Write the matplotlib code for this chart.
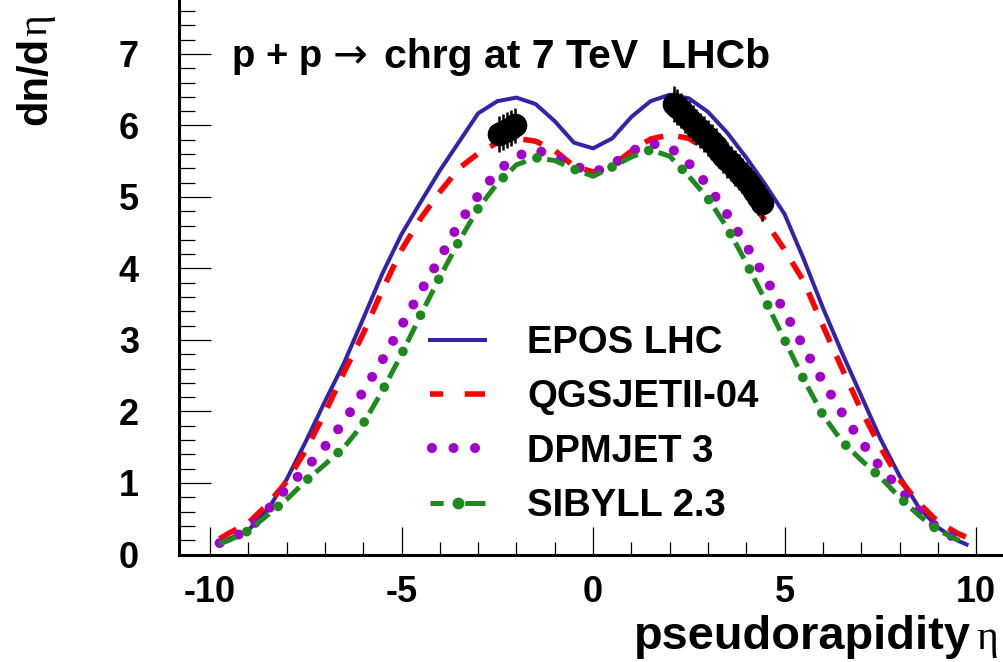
import matplotlib
matplotlib.use("Agg")
import matplotlib.pyplot as plt
from matplotlib.lines import Line2D

plt.rcParams['font.family'] = ['Liberation Sans', 'DejaVu Sans']
plt.rcParams['lines.scale_dashes'] = False

# ---------------- data ----------------
eta = [-9.75, -9.5, -9.0, -8.5, -8.0, -7.5, -7.0, -6.5, -6.0, -5.5, -5.0, -4.5, -4.0,
       -3.5, -3.0, -2.5, -2.0, -1.5, -1.0, -0.5, 0.0, 0.5, 1.0, 1.5, 2.0, 2.5, 3.0,
       3.5, 4.0, 4.5, 5.0, 5.5, 6.0, 6.5, 7.0, 7.5, 8.0, 8.5, 9.0, 9.5, 9.75]

epos = [0.14, 0.22, 0.34, 0.62, 1.05, 1.58, 2.14, 2.68, 3.30, 3.93, 4.48, 4.93, 5.37,
        5.77, 6.17, 6.34, 6.39, 6.30, 6.06, 5.76, 5.68, 5.82, 6.12, 6.34, 6.43, 6.38, 6.19,
        5.90, 5.55, 5.17, 4.76, 4.13, 3.45, 2.82, 2.22, 1.62, 1.10, 0.66, 0.38, 0.20, 0.14]

qgsjet = [0.22, 0.30, 0.44, 0.70, 1.02, 1.46, 1.98, 2.55, 3.09, 3.70, 4.26, 4.70, 5.07,
          5.40, 5.61, 5.76, 5.82, 5.78, 5.65, 5.43, 5.35, 5.44, 5.64, 5.81, 5.87, 5.82, 5.65,
          5.40, 5.05, 4.66, 4.26, 3.82, 3.20, 2.60, 2.02, 1.50, 1.05, 0.72, 0.46, 0.30, 0.24]

dpmjet = [0.16, 0.22, 0.34, 0.62, 0.93, 1.20, 1.51, 1.86, 2.28, 2.72, 3.20, 3.68, 4.14,
          4.63, 5.02, 5.36, 5.57, 5.66, 5.57, 5.44, 5.34, 5.45, 5.64, 5.75, 5.70, 5.47, 5.16,
          4.76, 4.32, 3.87, 3.40, 2.90, 2.42, 1.98, 1.58, 1.22, 0.92, 0.62, 0.36, 0.22, 0.16]

sibyll = [0.15, 0.20, 0.33, 0.55, 0.77, 1.03, 1.26, 1.50, 1.83, 2.29, 2.80, 3.35, 3.88,
          4.38, 4.84, 5.19, 5.45, 5.55, 5.51, 5.39, 5.29, 5.42, 5.56, 5.66, 5.57, 5.29, 4.98,
          4.57, 4.08, 3.55, 3.00, 2.45, 1.95, 1.58, 1.32, 1.08, 0.80, 0.55, 0.34, 0.21, 0.15]

# LHCb data
lhcb_eta = [-2.45, -2.35, -2.25, -2.15, -2.05,
            2.1, 2.2, 2.3, 2.4, 2.5, 2.6, 2.7, 2.8, 2.9, 3.0, 3.1, 3.2, 3.3, 3.4,
            3.5, 3.6, 3.7, 3.8, 3.9, 4.0, 4.1, 4.2, 4.3, 4.4]
lhcb_val = [5.88, 5.91, 5.94, 5.97, 6.00,
            6.30, 6.26, 6.21, 6.15, 6.09, 6.04, 5.98, 5.93, 5.88, 5.83, 5.77, 5.71, 5.65, 5.58,
            5.52, 5.47, 5.41, 5.35, 5.30, 5.24, 5.17, 5.09, 5.00, 4.92]
lhcb_err = [0.25] * len(lhcb_val)

labels = ["EPOS LHC", "QGSJETII-04", "DPMJET 3", "SIBYLL 2.3"]
title_parts = ["p + p", "\u2192", "chrg at 7 TeV  LHCb"]

# ---------------- figure ----------------
W, H = 1004, 662
fig = plt.figure(figsize=(W / 100, H / 100), dpi=100)
ax = fig.add_axes([179 / W, 107.5 / H, 827 / W, 554.5 / H])
ax.set_xlim(-10.81, 10.78)
ax.set_ylim(0, 7.755)

c_blue = '#3322aa'
c_red = '#ff0000'
c_purple = '#a000c8'
c_green = '#1e8a1e'

ax.plot(eta, epos, color=c_blue, lw=2.9, solid_joinstyle='round', zorder=3)
ax.plot(eta, qgsjet, color=c_red, lw=4.0, linestyle=(0, (14, 11)),
        dash_capstyle='butt', zorder=3)
ax.plot(eta, dpmjet, color=c_purple, lw=7.2, linestyle=(0, (0.01, 14.99)),
        dash_capstyle='round', zorder=3)
ax.plot(eta, sibyll, color=c_green, lw=3.6, linestyle=(0, (13, 16)),
        dash_capstyle='butt', zorder=3)
ax.plot(eta, sibyll, color=c_green, lw=7.0, linestyle=(7.5, (0.01, 28.99)),
        dash_capstyle='round', zorder=3)

ax.errorbar(lhcb_eta, lhcb_val, yerr=lhcb_err, fmt='o', color='black', ms=16,
            elinewidth=1.8, capsize=0, zorder=5)

# axes styling
for s in ['top', 'right']:
    ax.spines[s].set_visible(False)
for s in ['left', 'bottom']:
    ax.spines[s].set_linewidth(2.2)

ax.set_xticks([-10, -5, 0, 5, 10])
ax.set_xticks(range(-10, 11), minor=True)
ax.set_yticks(range(0, 8))
ax.set_yticks([i * 0.2 for i in range(0, 39)], minor=True)
ax.set_xticklabels(['-10', '-5', '0', '5', '10'])
ax.tick_params(axis='x', which='major', direction='in', length=20, width=0.9,
               labelsize=26, pad=15)
ax.tick_params(axis='x', which='minor', direction='in', length=9.5, width=0.9)
ax.tick_params(axis='y', which='major', direction='in', length=23, width=0.9,
               labelsize=26, pad=29)
ax.tick_params(axis='y', which='minor', direction='in', length=11.5, width=0.9)
for lab in ax.get_xticklabels() + ax.get_yticklabels():
    lab.set_fontweight('bold')

# title text (three pieces so the arrow can be thin and wide)
ty = 1 - 57 / H
fig.text(232 / W, ty, title_parts[0], fontsize=27.5, fontweight='bold',
         ha='left', va='center')
fig.text(333 / W, 1 - 55 / H, title_parts[1], fontsize=30, fontweight='normal',
         family=['DejaVu Sans'], ha='left', va='center')
fig.text(384 / W, ty, title_parts[2], fontsize=29.5, fontweight='bold',
         ha='left', va='center')

# legend (style samples)
h_epos = Line2D([], [], color=c_blue, lw=2.9)
h_qgs = Line2D([], [], color=c_red, lw=4.0, linestyle=(0, (9.5, 15.5, 20, 10)),
               dash_capstyle='butt')
h_dpm = Line2D([], [], color=c_purple, lw=7.2, linestyle=(14.1, (0.01, 15.5)),
               dash_capstyle='round')
h_sib = Line2D([], [], color=c_green, lw=3.6, linestyle=(0, (9.5, 15.5, 20, 10)),
               dash_capstyle='butt', marker='o', markersize=7.5,
               markerfacecolor=c_green, markeredgecolor=c_green)
leg = ax.legend([h_epos, h_qgs, h_dpm, h_sib], labels, numpoints=1,
                loc='upper left', bbox_to_anchor=(430 / W, 1 - 325 / H),
                bbox_transform=fig.transFigure, frameon=False,
                prop={'weight': 'bold', 'size': 27.5}, borderpad=0,
                handlelength=1.45, handletextpad=1.1, labelspacing=0.48,
                borderaxespad=0)

# axis titles with serif eta
fig.canvas.draw()
r = fig.canvas.get_renderer()
eta_x = fig.text(998 / W, 1 - 649 / H, "\u03b7", fontsize=30,
                 family=['Liberation Serif', 'DejaVu Serif'], ha='right', va='baseline')
bb = eta_x.get_window_extent(r)
fig.text((bb.x0 - 5) / W, 1 - 649 / H, "pseudorapidity", fontsize=33.8, fontweight='bold',
         ha='right', va='baseline')

eta_y = fig.text(55 / W, 1 - 14 / H, "\u03b7", fontsize=30, rotation=90,
                 family=['Liberation Serif', 'DejaVu Serif'], ha='right', va='top')
bb2 = eta_y.get_window_extent(r)
fig.text(55 / W, (bb2.y0 - 1) / H, "dn/d", fontsize=30, fontweight='bold', rotation=90,
         ha='right', va='top')

fig.savefig('out.png', dpi=100)
